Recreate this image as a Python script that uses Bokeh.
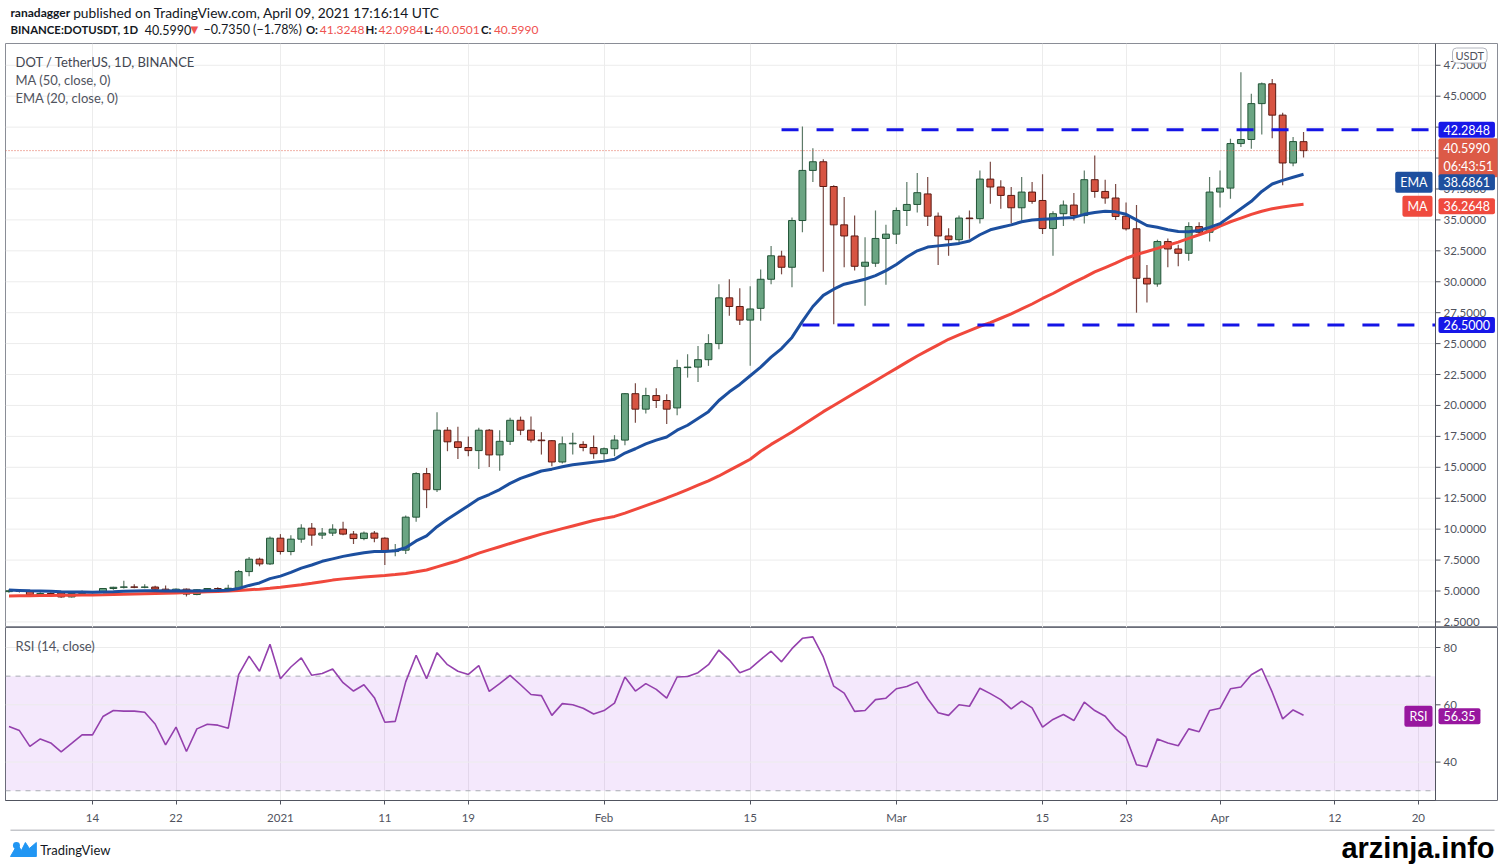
import numpy as np
import pandas as pd
from bokeh.plotting import figure
from bokeh.layouts import column
from bokeh.models import (Range1d, FixedTicker, Label, BoxAnnotation, Span,
                          ColumnDataSource)
from bokeh.core.properties import value
from bokeh.embed import file_html
from bokeh.resources import INLINE

# ---------------- data ----------------
dates = pd.date_range("2020-12-06", "2021-04-09", freq="D")

opens = [
    # Dec 6 - Dec 31
    4.95, 5.02, 5.02, 4.69, 4.80, 4.85, 4.52, 4.80, 4.90, 4.88, 5.20, 5.30, 5.33,
    5.30, 5.32, 5.15, 4.85, 5.15, 4.72, 5.10, 5.20, 5.18, 5.22, 6.57, 7.57, 7.19,
    # Jan
    9.27, 8.19, 9.19, 10.08, 9.52, 9.68, 10.00, 9.60, 9.24, 9.68, 9.27, 8.19, 8.30,
    10.97, 14.49, 13.19, 18.00, 17.06, 16.60, 16.35, 18.00, 16.00, 17.10, 18.80,
    18.00, 17.20, 17.15, 15.43, 16.90, 16.85, 16.60,
    # Feb
    16.10, 16.50, 17.20, 20.95, 19.70, 20.80, 20.40, 19.80, 23.06, 23.10, 23.70,
    25.00, 28.70, 28.00, 26.90, 27.85, 30.20, 32.07, 31.17, 34.95, 39.00, 39.70,
    37.70, 34.60, 33.70, 31.25, 31.50, 33.50,
    # Mar
    33.85, 35.76, 36.25, 37.10, 35.30, 33.70, 33.40, 35.15, 35.10, 38.30, 37.66,
    36.98, 35.98, 37.25, 36.57, 34.30, 35.50, 36.20, 35.35, 38.25, 37.30, 36.77,
    35.30, 34.28, 30.28, 29.82, 33.25, 32.65, 32.30, 34.46, 34.00,
    # Apr
    37.25, 37.57, 41.17, 41.50, 44.40, 46.00, 43.47, 39.60, 41.3248,
]
highs = [
    5.15, 5.10, 5.10, 4.90, 4.90, 4.90, 4.85, 5.05, 4.98, 5.25, 5.35, 5.82, 5.55,
    5.55, 5.42, 5.45, 5.20, 5.20, 5.15, 5.25, 5.30, 5.50, 6.70, 7.75, 7.70, 9.40,
    9.60, 9.50, 10.40, 10.50, 10.10, 10.40, 10.60, 9.85, 9.80, 9.85, 9.35, 8.80,
    11.10, 14.60, 14.95, 19.46, 18.25, 18.27, 17.50, 18.20, 18.10, 18.00, 19.00,
    19.10, 19.10, 17.84, 17.20, 17.50, 17.79, 17.10, 17.57,
    16.60, 17.60, 21.00, 21.80, 21.44, 21.40, 20.90, 23.70, 24.14, 24.80, 25.76,
    29.80, 30.20, 29.47, 29.63, 31.00, 32.90, 32.50, 35.20, 42.55, 40.80, 39.90,
    37.80, 36.85, 35.35, 33.60, 35.76, 34.60,
    36.00, 38.06, 38.80, 38.47, 35.60, 34.33, 35.35, 35.76, 39.00, 39.70, 38.20,
    37.66, 38.47, 38.06, 38.70, 35.70, 36.57, 37.17, 39.00, 40.20, 38.25, 37.90,
    36.40, 36.20, 31.36, 33.40, 33.50, 33.00, 34.80, 34.80, 38.47,
    39.00, 41.57, 46.93, 45.20, 46.10, 46.40, 43.66, 41.70, 42.0984,
]
lows = [
    4.85, 4.88, 4.62, 4.60, 4.72, 4.45, 4.48, 4.75, 4.80, 4.85, 5.10, 5.20, 5.22,
    5.22, 5.10, 4.78, 4.80, 4.55, 4.65, 5.00, 5.10, 5.10, 5.15, 6.20, 7.00, 7.10,
    7.95, 7.90, 8.90, 8.65, 9.20, 9.45, 9.50, 8.80, 9.10, 8.95, 7.10, 7.80,
    8.00, 10.60, 11.70, 13.00, 16.30, 15.68, 15.90, 14.87, 15.03, 14.73, 16.80,
    17.60, 17.00, 16.03, 15.08, 15.30, 16.03, 16.30, 15.70,
    15.50, 15.90, 16.78, 18.60, 19.35, 19.80, 18.50, 19.20, 22.25, 21.90, 23.20,
    24.55, 27.25, 26.50, 23.20, 26.85, 29.80, 30.60, 29.55, 34.00, 38.06, 30.80,
    26.57, 31.17, 30.90, 28.06, 31.20, 29.76,
    33.06, 34.50, 35.60, 34.50, 31.36, 32.10, 33.00, 33.47, 34.70, 36.30, 35.90,
    34.70, 34.95, 36.30, 33.87, 32.10, 34.50, 34.95, 34.70, 36.80, 36.30, 35.00,
    34.14, 27.50, 28.33, 29.60, 31.17, 31.25, 31.70, 33.70, 33.25,
    36.00, 36.70, 40.90, 40.76, 41.90, 41.60, 37.80, 39.33, 40.0501,
]
closes = [
    5.02, 4.98, 4.69, 4.80, 4.78, 4.52, 4.80, 4.90, 4.88, 5.20, 5.30, 5.33, 5.30,
    5.32, 5.15, 4.85, 5.15, 4.75, 5.10, 5.20, 5.18, 5.22, 6.57, 7.57, 7.19, 9.27,
    8.19, 9.19, 10.08, 9.52, 9.68, 10.00, 9.60, 9.24, 9.68, 9.27, 8.19, 8.30,
    10.97, 14.49, 13.19, 18.00, 17.06, 16.60, 16.35, 18.00, 16.00, 17.10, 18.80,
    18.00, 17.20, 17.15, 15.43, 16.90, 16.95, 16.60, 16.10,
    16.50, 17.20, 20.95, 19.70, 20.80, 20.40, 19.70, 23.06, 23.10, 23.70, 25.00,
    28.70, 28.00, 26.90, 27.80, 30.20, 32.10, 31.17, 34.95, 39.00, 39.70, 37.70,
    34.60, 33.70, 31.25, 31.58, 33.50, 33.85,
    35.76, 36.25, 37.20, 35.30, 33.70, 33.40, 35.15, 35.10, 38.30, 37.66, 36.98,
    35.98, 37.25, 36.50, 34.30, 35.50, 36.20, 35.35, 38.25, 37.30, 36.77, 35.28,
    34.28, 30.28, 29.82, 33.25, 32.65, 32.30, 34.46, 34.00, 37.25,
    37.57, 41.17, 41.50, 44.40, 46.00, 43.47, 39.60, 41.33, 40.5990,
]
ema20 = [
    5.08, 5.05, 5.02, 5.00, 4.97, 4.93, 4.92, 4.91, 4.90, 4.92, 4.94, 4.97, 5.00,
    5.02, 5.03, 5.01, 5.02, 5.00, 5.01, 5.03, 5.04, 5.06, 5.20, 5.45, 5.65, 6.00,
    6.20, 6.50, 6.85, 7.10, 7.40, 7.60, 7.80, 7.95, 8.10, 8.20, 8.20, 8.25, 8.50,
    9.05, 9.45, 10.20, 10.80, 11.35, 11.90, 12.45, 12.80, 13.20, 13.70, 14.10,
    14.40, 14.70, 14.85, 15.05, 15.20, 15.30, 15.40,
    15.50, 15.65, 16.15, 16.50, 16.90, 17.20, 17.45, 18.00, 18.40, 18.95, 19.50,
    20.40, 21.10, 21.70, 22.40, 23.10, 23.90, 24.60, 25.50, 26.80, 28.00, 28.90,
    29.40, 29.80, 30.00, 30.20, 30.50, 30.90,
    31.40, 32.00, 32.50, 32.80, 32.90, 33.00, 33.10, 33.30, 33.80, 34.20, 34.40,
    34.60, 34.85, 35.00, 35.05, 35.10, 35.15, 35.20, 35.45, 35.60, 35.70, 35.65,
    35.45, 35.00, 34.55, 34.40, 34.20, 34.06, 34.05, 34.14, 34.40,
    34.70, 35.30, 35.90, 36.50, 37.30, 37.90, 38.20, 38.45, 38.6861,
]
ma50 = [
    4.60, 4.61, 4.62, 4.63, 4.64, 4.65, 4.66, 4.67, 4.68, 4.69, 4.71, 4.73, 4.75,
    4.77, 4.79, 4.81, 4.84, 4.87, 4.90, 4.93, 4.96, 5.00, 5.05, 5.10, 5.15, 5.22,
    5.30, 5.40, 5.50, 5.62, 5.75, 5.88, 5.98, 6.06, 6.13, 6.19, 6.25, 6.33, 6.42,
    6.55, 6.70, 6.95, 7.20, 7.45, 7.75, 8.06, 8.32, 8.58, 8.84, 9.10, 9.35, 9.60,
    9.82, 10.04, 10.26, 10.48, 10.70,
    10.87, 11.03, 11.30, 11.60, 11.90, 12.20, 12.52, 12.85, 13.20, 13.55, 13.90,
    14.30, 14.75, 15.20, 15.65, 16.30, 16.85, 17.35, 17.85, 18.40, 18.95, 19.50,
    20.00, 20.50, 21.00, 21.50, 22.00, 22.50,
    23.00, 23.50, 24.00, 24.45, 24.90, 25.35, 25.70, 26.05, 26.40, 26.70, 27.05,
    27.40, 27.80, 28.20, 28.65, 29.05, 29.50, 29.95, 30.35, 30.80, 31.15, 31.50,
    31.90, 32.20, 32.45, 32.70, 32.95, 33.20, 33.50, 33.80, 34.10,
    34.50, 34.85, 35.15, 35.45, 35.70, 35.90, 36.05, 36.17, 36.2648,
]
rsi14 = [
    52.4, 51.0, 45.5, 48.1, 46.7, 43.6, 46.5, 49.5, 49.5, 55.9, 58.0, 57.8, 57.8,
    57.4, 53.3, 46.0, 52.2, 43.7, 51.6, 53.2, 52.9, 51.8, 70.5, 77.0, 71.7, 81.1,
    69.1, 73.2, 76.4, 70.3, 70.9, 72.5, 67.7, 64.8, 67.0, 62.5, 53.9, 54.2, 68.0,
    77.3, 69.1, 78.2, 74.0, 71.7, 70.6, 73.7, 64.7, 67.4, 70.3, 67.0, 63.6, 63.2,
    56.3, 60.4, 60.0, 58.8, 56.8,
    58.0, 60.6, 69.7, 64.8, 67.4, 65.4, 62.3, 69.7, 69.9, 71.2, 74.0, 79.1, 75.6,
    71.2, 72.6, 75.8, 78.7, 75.0, 79.6, 83.2, 83.7, 76.7, 66.5, 64.1, 57.7, 58.0,
    61.8, 62.3,
    65.6, 66.4, 68.0, 62.1, 57.2, 56.3, 60.0, 59.5, 65.8, 63.9, 61.8, 58.6, 61.3,
    58.9, 52.2, 54.9, 56.6, 54.5, 60.9, 58.0, 56.0, 51.6, 48.7, 39.1, 38.4, 48.1,
    46.7, 45.7, 51.6, 50.6, 58.0,
    58.8, 65.6, 66.2, 70.5, 72.6, 64.4, 55.1, 58.2, 56.35,
]

tick_dates = ["2020-12-14", "2020-12-22", "2021-01-01", "2021-01-11", "2021-01-19",
              "2021-02-01", "2021-02-15", "2021-03-01", "2021-03-15", "2021-03-23",
              "2021-04-01", "2021-04-12", "2021-04-20"]
tick_labels = ["14", "22", "2021", "11", "19", "Feb", "15", "Mar", "15", "23",
               "Apr", "12", "20"]
price_ticks = [2.5, 5.0, 7.5, 10.0, 12.5, 15.0, 17.5, 20.0, 22.5, 25.0, 27.5,
               30.0, 32.5, 35.0, 37.5, 40.0, 42.5, 45.0, 47.5]
price_tick_labels = ["2.5000", "5.0000", "7.5000", "10.0000", "12.5000", "15.0000",
                     "17.5000", "20.0000", "22.5000", "25.0000", "27.5000", "30.0000",
                     "32.5000", "35.0000", "37.5000", "40.0000", "42.5000", "45.0000",
                     "47.5000"]
rsi_ticks = [40, 60, 80]
rsi_tick_labels = ["40", "60", "80"]
rsi_bands = [30, 70]

level_values = [42.2848, 26.5]
level_labels = ["42.2848", "26.5000"]
level_starts = ["2021-02-18", "2021-02-20"]
last_price = 40.5990
ema_last = 38.6861
ma_last = 36.2648
rsi_last = 56.35

# ---------------- geometry helpers (reference pixel -> data) ----------------
DAY = 86400000.0
PXD = 10.44          # pixels per day


def ms(d):
    return pd.Timestamp(d).value / 1e6


x0 = ms("2020-12-14") - (92 - 5) / PXD * DAY      # frame left (px 5)
xend = x0 + 1492 / PXD * DAY                        # frame right (px 1497)


def mx(px):
    return x0 + (px - 5.0) / PXD * DAY


def dpx(n):
    return n / PXD * DAY


x1 = mx(1435)                                       # price scale line


def my(py):
    return 5 + (590.5 - py) / 12.37


def ry(py):
    return 60 + (704.3 - py) / 2.865


FONT = "Lato"
AXIS_COL = "#50535e"
GRID_COL = "#ececec"
BORDER = "#8a8d96"
TXT = "#131722"

tick_ms = [ms(d) for d in tick_dates]
xr = Range1d(x0, xend)
xt = FixedTicker(ticks=tick_ms)


def bare(w, h):
    f = figure(width=w, height=h, x_range=Range1d(0, w), y_range=Range1d(h, 0),
               x_axis_location=None, y_axis_location=None, min_border=0,
               toolbar_location=None, output_backend="svg", outline_line_color=None)
    f.grid.visible = False
    return f


def htext(fig, xs, ys, texts, color=TXT, bold=False, font=FONT, size="13px",
          align="left", baseline="middle"):
    fig.text(x=xs, y=ys, text=texts, text_color=color, text_font=value(font),
             text_font_size=size, text_baseline=baseline, text_align=align,
             text_font_style="bold" if bold else "normal")


def price_scale(fig, ticks, labels):
    """right-hand price scale drawn inside the frame: grid, line, ticks, labels"""
    n = len(ticks)
    fig.segment(x0=[x0] * n, y0=ticks, x1=[x1] * n, y1=ticks,
                line_color=GRID_COL, line_width=1)
    fig.segment(x0=[x1] * n, y0=ticks, x1=[x1 + dpx(5)] * n, y1=ticks,
                line_color=AXIS_COL, line_width=1)
    fig.text(x=[x1 + dpx(8)] * n, y=ticks, text=labels, text_font=value(FONT),
             text_font_size="11.5px", text_color=AXIS_COL, text_baseline="middle")
    fig.add_layout(Span(location=x1, dimension="height", line_color=AXIS_COL,
                        line_width=1))


def badge(fig, y, text, bg, side="right", yoff=0, size="12.5px"):
    if side == "right":
        lab = Label(x=x1, y=y, x_offset=3, y_offset=yoff, text=text, text_align="left")
    else:
        lab = Label(x=x1, y=y, x_offset=-3, y_offset=yoff, text=text, text_align="right")
    lab.text_baseline = "middle"
    lab.text_font = FONT
    lab.text_font_size = size
    lab.text_color = "white"
    lab.background_fill_color = bg
    lab.padding = dict(left=5, right=5, top=3, bottom=3)
    lab.border_radius = 2
    fig.add_layout(lab)


# ---------------- header ----------------
header = bare(1500, 43)
htext(header, [5], [12], ["ranadagger"], bold=True, size="12px")
htext(header, [68], [12],
      ["published on TradingView.com, April 09, 2021 17:16:14 UTC"], size="13.8px")
htext(header, [5, 302, 362, 421, 478], [29, 29, 29, 29, 29],
      ["BINANCE:DOTUSDT, 1D", "O:", "H:", "L:", "C:"], bold=True, size="11.4px")
htext(header, [140, 199], [29, 29], ["40.5990", "\u22120.7350 (\u22121.78%)"],
      size="12.5px")
htext(header, [316, 375, 432, 491], [29, 29, 29, 29],
      ["41.3248", "42.0984", "40.0501", "40.5990"], color="#ef5350", size="12px")
htext(header, [186], [29], ["\u25bc"], color="#ef5350", font="DejaVu Sans", size="10px")

# ---------------- main price pane ----------------
p = figure(x_axis_type="datetime", x_range=xr, y_range=Range1d(my(627), my(43)),
           frame_width=1492, frame_height=584, min_border_left=5, min_border_right=3,
           min_border_top=0, min_border_bottom=0, x_axis_location=None,
           y_axis_location=None, toolbar_location=None, output_backend="svg")
p.outline_line_color = BORDER
p.ygrid.visible = False
p.xgrid.ticker = xt
p.xgrid.grid_line_color = GRID_COL

price_scale(p, price_ticks, price_tick_labels)

o = np.array(opens)
c = np.array(closes)
up = c >= o
src = ColumnDataSource(dict(
    date=dates, high=highs, low=lows,
    top=np.maximum(o, c), bottom=np.minimum(o, c),
    fill=np.where(up, "#6ba583", "#d75442"),
    edge=np.where(up, "#225437", "#5b1a13"),
    wick=np.where(up, "#5d7a68", "#7a4a44"),
))
p.segment(x0="date", y0="low", x1="date", y1="high", source=src,
          line_color="wick", line_width=1.2)
p.vbar(x="date", width=0.66 * DAY, top="top", bottom="bottom", source=src,
       fill_color="fill", line_color="edge", line_width=1)

p.line(dates, ma50, line_color="#f0483c", line_width=3)
p.line(dates, ema20, line_color="#1c4f9f", line_width=3)

p.segment(x0=[ms(d) for d in level_starts], y0=level_values,
          x1=[x1] * len(level_values), y1=level_values,
          line_color="#1414e6", line_width=3, line_dash="17 18")
p.segment(x0=[x0], y0=[last_price], x1=[x1], y1=[last_price], line_color="#e0644f",
          line_dash="1 2", line_width=1)

for txt, py, col in [("DOT / TetherUS, 1D, BINANCE", 61, "#434651"),
                     ("MA (50, close, 0)", 79, "#50535e"),
                     ("EMA (20, close, 0)", 97, "#50535e")]:
    p.add_layout(Label(x=mx(15), y=my(py), text=txt, text_font=FONT,
                       text_font_size="13px", text_color=col, text_baseline="middle"))

badge(p, level_values[0], level_labels[0], "#1717e8")
badge(p, level_values[1], level_labels[1], "#1717e8")
badge(p, last_price, "40.5990\n06:43:51", "#dc5a47", yoff=-7)
badge(p, ema_last, "38.6861", "#1e4f9e", yoff=-8)
badge(p, ema_last, "EMA", "#1e4f9e", side="left", yoff=-8)
badge(p, ma_last, "36.2648", "#ef4a3e", yoff=-2)
badge(p, ma_last, "MA", "#ef4a3e", side="left", yoff=-2)

p.add_layout(Label(x=x1, y=my(55), x_offset=17, text="USDT", text_font=FONT,
                   text_font_size="11px", text_color=AXIS_COL, text_baseline="middle",
                   background_fill_color="white", border_line_color="#b2b5be",
                   padding=dict(left=3, right=3, top=1, bottom=1), border_radius=4))

# ---------------- RSI pane ----------------
p2 = figure(x_axis_type="datetime", x_range=xr, y_range=Range1d(ry(800), ry(627)),
            frame_width=1492, frame_height=173, min_border_left=5, min_border_right=3,
            min_border_top=0, min_border_bottom=29, y_axis_location=None,
            toolbar_location=None, output_backend="svg")
p2.outline_line_color = "#6a6d78"
p2.ygrid.visible = False
p2.xaxis.ticker = xt
p2.xgrid.ticker = xt
p2.xgrid.grid_line_color = GRID_COL
p2.xaxis.bounds = (x0, x1)
p2.xaxis.major_label_overrides = {t: l for t, l in zip(tick_ms, tick_labels)}
p2.xaxis.major_label_text_font = FONT
p2.xaxis.major_label_text_font_size = "11.5px"
p2.xaxis.major_label_text_color = AXIS_COL
p2.xaxis.major_tick_out = 4
p2.xaxis.major_tick_in = 0
p2.xaxis.minor_tick_out = 0
p2.xaxis.minor_tick_in = 0
p2.xaxis.axis_line_color = AXIS_COL
p2.xaxis.major_tick_line_color = AXIS_COL
p2.xaxis.major_label_standoff = 6

p2.add_layout(BoxAnnotation(left=x0, right=x1, bottom=rsi_bands[0], top=rsi_bands[1],
                            fill_color="#9b2fe6", fill_alpha=0.11, line_color=None,
                            level="underlay"))
price_scale(p2, rsi_ticks, rsi_tick_labels)
p2.segment(x0=[x0] * 2, y0=rsi_bands, x1=[x1] * 2, y1=rsi_bands,
           line_color="#a9abb3", line_dash="5 5", line_width=1)
p2.line(dates, rsi14, line_color="#9440ad", line_width=1.6)
p2.add_layout(Label(x=mx(15), y=ry(645), text="RSI (14, close)", text_font=FONT,
                    text_font_size="13px", text_color="#50535e", text_baseline="middle"))
badge(p2, rsi_last, "56.35", "#98179f", yoff=-1)
badge(p2, rsi_last, "RSI", "#98179f", side="left", yoff=-1)

# ---------------- footer ----------------
footer = bare(1500, 37)
footer.segment(x0=[5], y0=[0.5], x1=[1497], y1=[0.5], line_color=BORDER, line_width=1)
footer.patch([5, 12, 16, 20, 24, 31, 31, 5], [27, 15, 21, 13, 19, 13, 27, 27],
             fill_color="#2196f3", line_color="#2196f3")
footer.circle(x=[11], y=[16], radius=3.5, fill_color="#2196f3", line_color=None)
htext(footer, [35], [20], ["TradingView"], size="13px")
footer.text(x=[1497], y=[18], text=["arzinja.info"], text_align="right",
            text_baseline="middle", text_font=value("Liberation Sans"),
            text_font_style="bold", text_font_size="29px", text_color="black")

layout = column(header, p, p2, footer, spacing=0)
open("out.html", "w").write(file_html(layout, INLINE))
